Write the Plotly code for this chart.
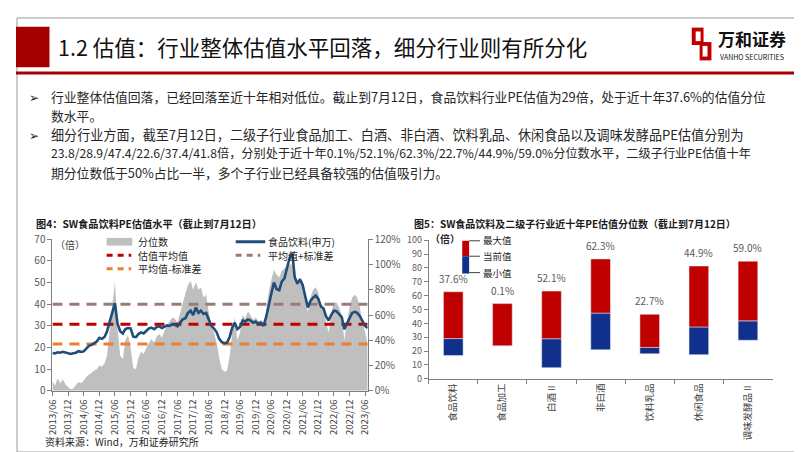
import pandas as pd
import plotly.graph_objects as go

W, H = 802, 452
FONT = "Noto Sans CJK SC"


def px(x):
    return x / W


def py(y):
    return 1 - y / H


# ---- data: SW food & beverage PE (monthly) ----
dates = pd.date_range("2013-06-01", "2023-07-01", freq="MS")
pe = [
    17.5, 17.3, 17.8, 17.6, 18.0, 17.7, 17.4,
    17.0, 17.3, 17.6, 18.3, 18.0, 18.2, 19.5, 20.8, 21.2, 21.8, 22.8, 24.5,
    24.0, 25.0, 27.5, 32.0, 36.0, 40.5, 31.0, 27.5, 26.5, 28.5, 29.0, 28.8,
    25.0, 24.8, 26.2, 27.0, 26.5, 27.5, 28.8, 29.2, 28.5, 29.5, 29.8, 29.0,
    29.6, 30.2, 30.0, 30.8, 30.5, 29.8, 31.5, 33.0, 33.5, 36.0, 37.0, 35.0,
    38.5, 36.0, 37.0, 35.5, 36.0, 33.0, 30.0, 28.8, 27.0, 24.0, 22.5, 22.0,
    22.3, 25.0, 29.0, 31.5, 28.5, 29.5, 32.5, 32.0, 33.0, 32.5, 31.5, 32.0,
    31.0, 31.5, 30.0, 34.0, 40.0, 45.0, 50.0, 47.0, 46.5, 50.5, 52.0, 57.0,
    61.5, 63.5, 52.5, 49.5, 51.5, 49.0, 44.0, 38.5, 41.5, 43.0, 44.0, 42.5,
    39.0, 38.0, 34.5, 32.5, 35.0, 37.0, 36.8, 35.5, 34.0, 28.5, 31.0, 34.0,
    36.0, 36.5, 36.0, 34.5, 32.0, 30.0, 29.0,
]
pct = [
    8, 4, 10, 6, 9, 5, 3,
    1, 2, 4, 7, 6, 8, 11, 13, 14, 16, 17, 20,
    19, 22, 28, 50, 68, 86, 50, 28, 25, 40, 44, 34,
    18, 17, 26, 31, 29, 34, 38, 41, 38, 43, 45, 42,
    48, 52, 55, 58, 57, 54, 62, 70, 77, 84, 87, 80,
    86, 80, 82, 74, 76, 62, 52, 46, 38, 26, 17, 15,
    16, 28, 45, 58, 40, 46, 60, 57, 63, 60, 56, 58,
    55, 56, 52, 63, 78, 88, 96, 92, 90, 95, 97, 99,
    100, 100, 92, 86, 90, 85, 74, 62, 74, 80, 82, 78,
    68, 64, 55, 46, 60, 70, 70, 66, 60, 40, 55, 66,
    74, 76, 74, 66, 55, 45, 37.6,
]
pe_mean = 30.8
pe_upper = 40.0
pe_lower = 21.6

# ---- data: sub-industry PE range ----
cats = ["食品饮料", "食品加工", "白酒Ⅱ", "非白酒", "饮料乳品", "休闲食品", "调味发酵品Ⅱ"]
pe_min = [16.8, 23.8, 8.0, 20.9, 18.0, 17.4, 27.8]
pe_now = [29.0, 23.8, 28.9, 47.4, 22.6, 37.4, 41.8]
pe_max = [62.8, 54.3, 63.3, 86.5, 46.5, 81.4, 84.9]
pct_labels = ["37.6%", "0.1%", "52.1%", "62.3%", "22.7%", "44.9%", "59.0%"]

BLUE = "#1f4e79"
GRAY = "#bfbfbf"
RED = "#c00000"
MAUVE = "#9c7a7a"
ORANGE = "#ed7d31"
NAVY = "#10308c"

fig = go.Figure()

# left chart
fig.add_trace(go.Scatter(x=dates, y=pct, mode="lines", fill="tozeroy",
                         line=dict(width=0, color=GRAY), fillcolor=GRAY,
                         xaxis="x", yaxis="y", hoverinfo="skip"))
for val, col in [(pe_upper, MAUVE), (pe_mean, RED), (pe_lower, ORANGE)]:
    fig.add_trace(go.Scatter(x=[dates[0], dates[-1]], y=[val, val], mode="lines",
                             line=dict(color=col, width=3, dash="10px,7px"),
                             xaxis="x", yaxis="y2"))
fig.add_trace(go.Scatter(x=dates, y=pe, mode="lines",
                         line=dict(color=BLUE, width=2.6),
                         xaxis="x", yaxis="y2"))

# right chart
lo_h = [n - m for n, m in zip(pe_now, pe_min)]
hi_h = [x - n for x, n in zip(pe_max, pe_now)]
fig.add_trace(go.Bar(x=cats, y=lo_h, base=pe_min, marker_color=NAVY, width=0.4,
                     xaxis="x3", yaxis="y3"))
fig.add_trace(go.Bar(x=cats, y=hi_h, base=pe_now, marker_color=RED, width=0.4,
                     xaxis="x3", yaxis="y3"))

axis_common = dict(showline=True, linecolor="#808080", linewidth=1, ticks="outside",
                   ticklen=4, tickcolor="#808080", showgrid=False, zeroline=False)

fig.update_layout(
    width=W, height=H, margin=dict(l=0, r=0, t=0, b=0),
    paper_bgcolor="white", plot_bgcolor="white", showlegend=False,
    barmode="overlay",
    font=dict(family=FONT, color="#404040"),
    xaxis=dict(domain=[px(37), px(357)], range=[dates[0], dates[-1]], anchor="y",
               tick0="2013-06-01", dtick="M6", tickformat="%Y/%m", tickangle=-90,
               tickfont=dict(size=9.5, color="#404040"), **axis_common),
    yaxis=dict(domain=[py(387.5), py(230.5)], range=[0, 120], side="right", anchor="x",
               dtick=20, ticksuffix="%", tickfont=dict(size=10, color="#595959"),
               **axis_common),
    yaxis2=dict(range=[0, 70], overlaying="y", side="left", anchor="x", dtick=10,
                tickfont=dict(size=10, color="#595959"), **axis_common),
    xaxis3=dict(domain=[px(419), px(768)], anchor="y3", type="category",
                tickson="boundaries", tickangle=-90,
                tickfont=dict(size=9.5, color="#404040"), **axis_common),
    yaxis3=dict(domain=[py(375), py(231.5)], range=[0, 100], anchor="x3", dtick=10,
                tickfont=dict(size=9, color="#595959"), **axis_common),
)

ann = []


def text(x, y, s, size, color="#262626", anchor="left", bold=False):
    if bold:
        s = "<b>" + s + "</b>"
    ann.append(dict(x=px(x), y=py(y), xref="paper", yref="paper", text=s,
                    showarrow=False, xanchor=anchor, yanchor="middle",
                    font=dict(size=size, color=color, family=FONT)))


# header
text(41, 31, "1.2 估值：行业整体估值水平回落，细分行业则有所分化", 21.5, "#111111")
text(711, 22, "万和证券", 17, "#111111", bold=True)
text(713, 41, "VANHO SECURITIES", 7, "#111111")

# bullets
body = [
    (82, True, 12.8, "行业整体估值回落，已经回落至近十年相对低位。截止到7月12日，食品饮料行业PE估值为29倍，处于近十年37.6%的估值分位"),
    (102, False, 12.8, "数水平。"),
    (122, True, 13.1, "细分行业方面，截至7月12日，二级子行业食品加工、白酒、非白酒、饮料乳品、休闲食品以及调味发酵品PE估值分别为"),
    (141, False, 12.2, "23.8/28.9/47.4/22.6/37.4/41.8倍，分别处于近十年0.1%/52.1%/62.3%/22.7%/44.9%/59.0%分位数水平，二级子行业PE估值十年"),
    (161, False, 12.8, "期分位数低于50%占比一半，多个子行业已经具备较强的估值吸引力。"),
]
for y, bullet, size, s in body:
    if bullet:
        text(11, y, "➢", 12, "#262626")
    text(33, y, s, size, "#262626")

# chart titles & source
text(18, 214, "图4：SW食品饮料PE估值水平（截止到7月12日）", 10.2, "#1a1a1a", bold=True)
text(402, 214, "图5：SW食品饮料及二级子行业近十年PE估值分位数（截止到7月12日）", 10, "#1a1a1a", bold=True)
text(27, 440, "资料来源：Wind，万和证券研究所", 10, "#262626")

# left legend
text(38, 236, "（倍）", 10, "#404040")
text(122, 233, "分位数", 10, "#262626")
text(254, 233, "食品饮料(申万)", 10, "#262626")
text(122, 247, "估值平均值", 10, "#262626")
text(254, 247, "平均值+标准差", 10, "#262626")
text(122, 261, "平均值-标准差", 10, "#262626")

# right legend
text(418, 230, "（倍）", 10, "#262626", bold=True)
text(472, 231, "最大值", 9.5, "#262626")
text(472, 248, "当前值", 9.5, "#262626")
text(472, 265, "最小值", 9.5, "#262626")

# percentile labels above bars
for c, top, lab in zip(cats, pe_max, pct_labels):
    ann.append(dict(x=c, y=top, xref="x3", yref="y3", text=lab, showarrow=False,
                    yanchor="bottom", yshift=4,
                    font=dict(size=10, color="#595959", family=FONT)))

shapes = []


def rect(x0, y0, x1, y1, color):
    shapes.append(dict(type="rect", xref="paper", yref="paper",
                       x0=px(x0), x1=px(x1), y0=py(y0), y1=py(y1),
                       fillcolor=color, line=dict(width=0), layer="above"))


def hline(x0, x1, y, color, width, dash="solid"):
    shapes.append(dict(type="line", xref="paper", yref="paper",
                       x0=px(x0), x1=px(x1), y0=py(y), y1=py(y),
                       line=dict(color=color, width=width, dash=dash), layer="above"))


# frame and header decoration
shapes.append(dict(type="rect", xref="paper", yref="paper", x0=px(1), x1=px(800),
                   y0=py(451), y1=py(1), line=dict(color="#9a9a9a", width=1),
                   fillcolor="rgba(0,0,0,0)", layer="below"))
rect(0, 10, 34, 52, "#a50000")
hline(0, 802, 58, "#a50000", 3)
# logo emblem
rect(686, 11, 698, 29, "#c00000")
rect(694, 26, 706, 45, "#c00000")
rect(690, 15, 695, 25, "white")
rect(697, 30, 702, 41, "white")

# left legend marks
rect(92, 229, 118, 237, GRAY)
hline(223, 253, 233, BLUE, 3)
hline(92, 117, 247, RED, 3, "6px,5px")
hline(223, 248, 247, MAUVE, 3, "6px,5px")
hline(92, 117, 261, ORANGE, 3, "6px,5px")

# right legend marks
rect(453, 232, 460, 248, RED)
rect(453, 248, 460, 266, NAVY)
hline(460, 471, 232, "#404040", 1)
hline(460, 471, 248, "#404040", 1)
hline(460, 471, 265, "#404040", 1)

fig.update_layout(annotations=ann, shapes=shapes)
fig.write_html("out.html")
